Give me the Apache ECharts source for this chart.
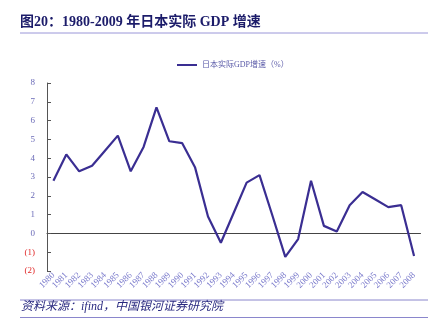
<!DOCTYPE html>
<html><head><meta charset="utf-8">
<script src="https://cdn.jsdelivr.net/npm/echarts@6/dist/echarts.min.js"></script>
<style>html,body{margin:0;padding:0;background:#fff}#c{width:443px;height:328px}</style>
</head><body><div id="c"></div>
<script>
const years = ['1980','1981','1982','1983','1984','1985','1986','1987','1988','1989','1990','1991','1992','1993','1994','1995','1996','1997','1998','1999','2000','2001','2002','2003','2004','2005','2006','2007','2008'];
const gdpGrowth = [2.8,4.2,3.3,3.6,4.4,5.2,3.3,4.6,6.7,4.9,4.8,3.5,0.9,-0.5,1.1,2.7,3.1,0.95,-1.25,-0.3,2.8,0.4,0.1,1.5,2.2,1.8,1.4,1.5,-1.2];
const seriesName = '日本实际GDP增速（%）';
const titleText = '图20：1980-2009 年日本实际 GDP 增速';
const sourceText = '资料来源：ifind，中国银河证券研究院';

const chart = echarts.init(document.getElementById('c'), null, {renderer:'canvas'});
const serif = '"Liberation Serif","Noto Sans CJK SC",serif';
chart.setOption({
  animation:false,
  backgroundColor:'#fff',
  grid:{left:47,right:22.5,top:83,bottom:57},
  legend:{
    left:172, top:56, itemWidth:20, itemHeight:8, itemGap:3,
    textStyle:{fontSize:8, color:'#5a5aa8', fontFamily:serif},
    data:[{name:seriesName, icon:'path://M0,0 L20,0 L20,2 L0,2 Z'}]
  },
  xAxis:{
    type:'category', data:years, boundaryGap:true,
    axisLine:{onZero:true, lineStyle:{color:'#444', width:1}},
    axisTick:{show:false},
    axisLabel:{interval:0, rotate:45, fontSize:9, color:'#7b7bcc', fontFamily:serif, margin:3, hideOverlap:false}
  },
  yAxis:{
    type:'value', min:-2, max:8, interval:1,
    splitLine:{show:false},
    axisLine:{show:true, lineStyle:{color:'#555', width:1}},
    axisTick:{show:true, inside:true, length:4, lineStyle:{color:'#555'}},
    axisLabel:{
      fontSize:9, fontFamily:serif, margin:12,
      formatter:v => v < 0 ? '{n|(' + (-v) + ')}' : '{p|' + v + '}',
      rich:{p:{color:'#6b6bb8', fontSize:9, fontFamily:serif}, n:{color:'#e02828', fontSize:9, fontFamily:serif}}
    }
  },
  series:[{
    name:seriesName, type:'line', data:gdpGrowth, symbol:'none',
    lineStyle:{color:'#3a2e92', width:2.2}, itemStyle:{color:'#3a2e92'}
  }],
  graphic:[
    {type:'text', left:20, top:15, style:{text:titleText, font:'bold 14px '+serif, fill:'#1c1c6a'}},
    {type:'line', shape:{x1:20,y1:33,x2:428,y2:33}, style:{stroke:'#9a96d8', lineWidth:1}},
    {type:'line', shape:{x1:20,y1:300,x2:428,y2:300}, style:{stroke:'#8a86cc', lineWidth:1}},
    {type:'text', left:21, top:301, style:{text:sourceText, font:'italic 12px '+serif, fill:'#2a2a80'}},
    {type:'line', shape:{x1:20,y1:317.5,x2:428,y2:317.5}, style:{stroke:'#8a86cc', lineWidth:1}}
  ]
});
</script></body></html>
